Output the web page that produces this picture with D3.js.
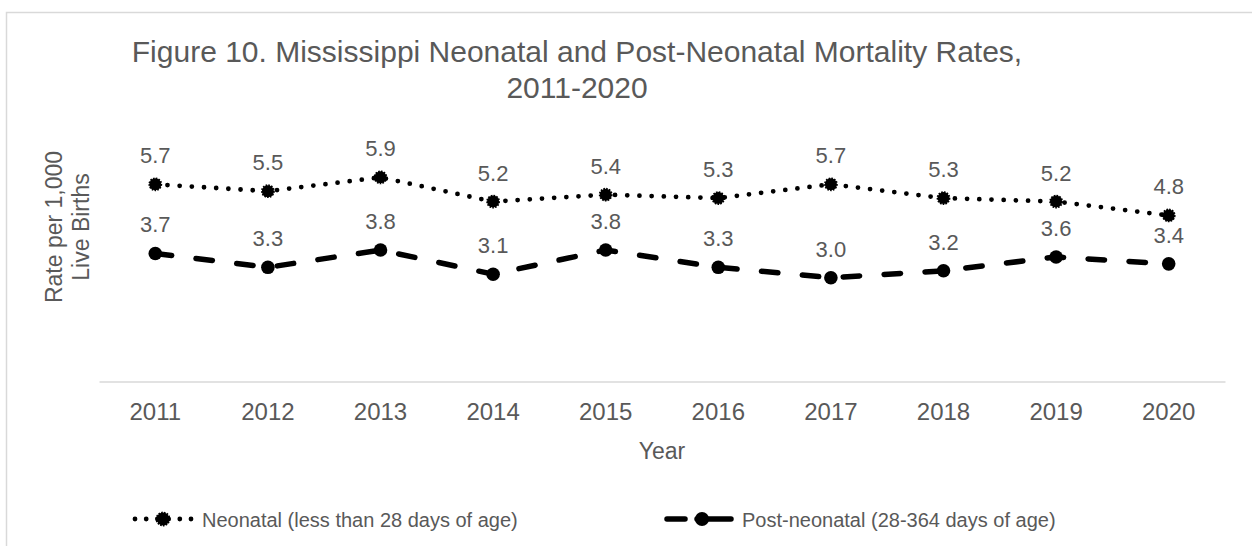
<!DOCTYPE html>
<html>
<head>
<meta charset="utf-8">
<script src="https://cdn.jsdelivr.net/npm/d3@7/dist/d3.min.js"></script>
<style>
  html, body { margin: 0; padding: 0; background: #fff; }
  svg { display: block; }
  text { font-family: "Liberation Sans", Arial, sans-serif; fill: #595959; }
</style>
</head>
<body>
<svg id="chart" width="1252" height="546"></svg>
<script>
const years = ["2011","2012","2013","2014","2015","2016","2017","2018","2019","2020"];
const neonatal = [5.7, 5.5, 5.9, 5.2, 5.4, 5.3, 5.7, 5.3, 5.2, 4.8];
const postNeonatal = [3.7, 3.3, 3.8, 3.1, 3.8, 3.3, 3.0, 3.2, 3.6, 3.4];
const seriesNames = ["Neonatal (less than 28 days of age)", "Post-neonatal (28-364 days of age)"];
const titleLines = ["Figure 10. Mississippi Neonatal and Post-Neonatal Mortality Rates,", "2011-2020"];
const yTitleLines = ["Rate per 1,000", "Live Births"];
const xTitle = "Year";

const svg = d3.select("#chart");

// frame
svg.append("path")
  .attr("d", "M6.5,546 L6.5,12.5 L1252,12.5")
  .attr("fill", "none").attr("stroke", "#d9d9d9").attr("stroke-width", 1.5);

const x = d3.scaleBand().domain(years).range([99, 1225]).paddingInner(0).paddingOuter(0);
const y = d3.scaleLinear().domain([0, 7]).range([381.5, 381.5 - 7 * 34.6]);
const cx = d => x(d) + x.bandwidth() / 2;

// title
const title = svg.append("text").attr("text-anchor", "middle").style("font-size", "30px");
titleLines.forEach((t, i) => {
  title.append("tspan").attr("x", 577).attr("y", 62 + i * 36).text(t);
});

// x axis
const xAxis = d3.axisBottom(x).tickSize(0).tickPadding(0);
const gx = svg.append("g").attr("transform", "translate(0,381.5)").call(xAxis);
gx.select(".domain").attr("stroke", "#d9d9d9").attr("stroke-width", 1.5);
gx.selectAll(".tick text")
  .attr("dy", null).attr("y", 38)
  .style("font-size", "24px").attr("fill", "#595959")
  .style("font-family", "'Liberation Sans', Arial, sans-serif");

// axis titles
svg.append("text").attr("x", 662).attr("y", 459).attr("text-anchor", "middle")
  .style("font-size", "23px").text(xTitle);

const yt = svg.append("text").attr("transform", "translate(0,227) rotate(-90)")
  .attr("text-anchor", "middle").style("font-size", "23px");
yTitleLines.forEach((t, i) => {
  yt.append("tspan").attr("x", 0).attr("y", 62 + i * 27).text(t);
});

const line = d3.line().x((d, i) => cx(years[i])).y(d => y(d));

// neonatal dotted
svg.append("path").datum(neonatal).attr("d", line)
  .attr("fill", "none").attr("stroke", "#000").attr("stroke-width", 4.8)
  .attr("stroke-linecap", "round").attr("stroke-dasharray", "0 12.2");
svg.append("g").selectAll("circle").data(neonatal).join("circle")
  .attr("cx", (d, i) => cx(years[i])).attr("cy", d => y(d)).attr("r", 6)
  .attr("fill", "#000").attr("stroke", "#000").attr("stroke-width", 1.8)
  .attr("stroke-dasharray", "1.6 1.2");

// post-neonatal dashed
svg.append("path").datum(postNeonatal).attr("d", line)
  .attr("fill", "none").attr("stroke", "#000").attr("stroke-width", 5.5)
  .attr("stroke-linecap", "round").attr("stroke-dasharray", "16.5 24.5");
svg.append("g").selectAll("circle").data(postNeonatal).join("circle")
  .attr("cx", (d, i) => cx(years[i])).attr("cy", d => y(d)).attr("r", 6.8)
  .attr("fill", "#000");

// data labels
const fmt = d3.format(".1f");
[neonatal, postNeonatal].forEach(s => {
  svg.append("g").selectAll("text").data(s).join("text")
    .attr("x", (d, i) => cx(years[i])).attr("y", d => y(d) - 21)
    .attr("text-anchor", "middle").style("font-size", "22px").text(d => fmt(d));
});

// legend
const lg = svg.append("g");
// item 1
lg.append("path").attr("d", "M135,519 L191,519")
  .attr("fill", "none").attr("stroke", "#000").attr("stroke-width", 4.8)
  .attr("stroke-linecap", "round").attr("stroke-dasharray", "0 11.2");
lg.append("circle").attr("cx", 163).attr("cy", 519).attr("r", 6.5)
  .attr("fill", "#000").attr("stroke", "#000").attr("stroke-width", 1.8).attr("stroke-dasharray", "1.6 1.2");
lg.append("text").attr("x", 202).attr("y", 526.5).style("font-size", "20px").text(seriesNames[0]);
// item 2
lg.append("path").attr("d", "M667,519 L731,519")
  .attr("fill", "none").attr("stroke", "#000").attr("stroke-width", 5.5)
  .attr("stroke-linecap", "round").attr("stroke-dasharray", "18 12 40");
lg.append("circle").attr("cx", 702).attr("cy", 519).attr("r", 7).attr("fill", "#000");
lg.append("text").attr("x", 742).attr("y", 526.5).style("font-size", "20px").text(seriesNames[1]);
</script>
</body>
</html>
